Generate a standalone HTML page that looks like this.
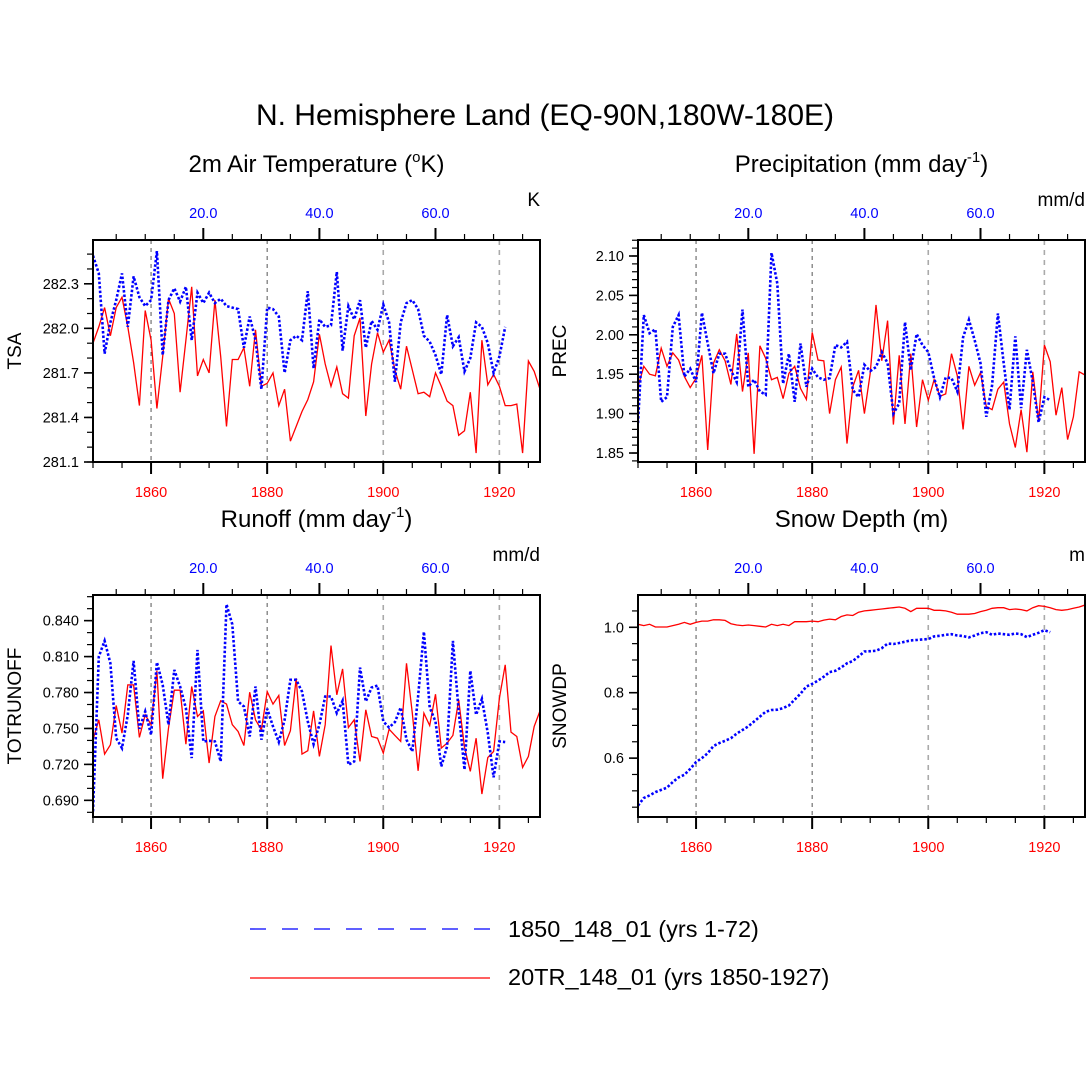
<!DOCTYPE html>
<html><head><meta charset="utf-8"><style>
html,body{margin:0;padding:0;background:#fff;}
svg{display:block;font-family:"Liberation Sans",Arial,sans-serif;}
</style></head><body>
<svg id="chart" width="1090" height="1090" viewBox="0 0 1090 1090">
<text x="545" y="125" font-size="30" text-anchor="middle">N. Hemisphere Land (EQ-90N,180W-180E)</text>
<g>
<line x1="250" y1="929" x2="490" y2="929" stroke="#00f" stroke-width="1.3" stroke-dasharray="16 16"/>
<text x="508" y="937" font-size="23.5">1850_148_01 (yrs 1-72)</text>
<line x1="250" y1="978" x2="490" y2="978" stroke="#f00" stroke-width="1.3"/>
<text x="508" y="985" font-size="23.5">20TR_148_01 (yrs 1850-1927)</text>
</g>
</svg>
<script>
// ---- data ----
const redYears = [1850, 1927];
const blueYears = [1, 72];
const tsaRed = [281.90,282.01,282.14,281.95,282.14,282.21,282.01,281.77,281.48,282.12,281.92,281.46,281.81,282.20,282.10,281.57,281.92,282.28,281.68,281.79,281.70,282.19,281.81,281.34,281.79,281.79,281.87,281.61,281.99,281.61,281.63,281.70,281.48,281.59,281.24,281.34,281.44,281.52,281.64,281.96,281.76,281.61,281.74,281.56,281.53,281.95,282.07,281.41,281.76,281.97,281.84,281.92,281.72,281.59,281.88,281.72,281.56,281.57,281.54,281.70,281.61,281.51,281.48,281.28,281.31,281.57,281.16,281.92,281.62,281.69,281.61,281.48,281.48,281.49,281.16,281.78,281.71,281.59];
const tsaBlue = [282.49,282.37,281.83,282.04,282.19,282.37,282.01,282.35,282.21,282.15,282.19,282.52,281.82,282.19,282.27,282.18,282.28,281.92,282.24,282.17,282.24,282.17,282.20,282.15,282.14,282.13,281.87,282.08,281.92,281.59,282.14,282.13,282.08,281.70,281.92,281.95,281.92,282.25,281.73,282.06,282.01,282.02,282.38,281.85,282.15,282.06,282.19,281.87,282.05,281.99,282.16,282.04,281.64,282.04,282.17,282.19,282.13,281.95,281.91,281.82,281.69,282.09,281.88,281.94,281.71,281.80,282.04,282.01,281.90,281.70,281.81,282.01];
const precRed = [1.934,1.960,1.950,1.948,1.983,1.960,1.977,1.968,1.947,1.933,1.945,1.974,1.854,1.964,1.981,1.967,1.937,2.001,1.928,1.977,1.849,1.986,1.970,1.943,1.946,1.919,1.951,1.960,1.932,1.918,2.003,1.968,1.967,1.900,1.943,1.959,1.862,1.934,1.955,1.900,1.951,2.038,1.967,2.018,1.886,1.974,1.887,1.976,1.883,1.943,1.917,1.943,1.922,1.925,1.976,1.948,1.880,1.960,1.936,1.952,1.909,1.905,1.931,1.940,1.887,1.857,1.905,1.851,1.953,1.890,1.987,1.966,1.898,1.933,1.867,1.896,1.953,1.949];
const precBlue = [1.888,2.025,2.002,2.007,1.915,1.921,2.010,2.025,1.947,1.957,1.940,2.028,1.989,1.951,1.976,1.976,1.955,1.940,2.032,1.934,1.943,1.928,1.924,2.104,2.065,1.938,1.976,1.915,1.989,1.934,1.957,1.946,1.943,1.945,1.987,1.984,1.991,1.930,1.921,1.962,1.954,1.959,1.978,1.964,1.900,1.913,2.016,1.955,2.001,1.987,1.978,1.945,1.921,1.946,1.945,1.928,1.997,2.019,1.993,1.964,1.896,1.936,2.027,1.964,1.905,1.998,1.907,1.981,1.940,1.889,1.921,1.917];
const runRed = [0.7406,0.7572,0.7286,0.7364,0.7692,0.7461,0.7864,0.7864,0.7425,0.7614,0.7531,0.7981,0.7081,0.7503,0.7819,0.7819,0.7369,0.785,0.76,0.7647,0.7211,0.76,0.7731,0.7703,0.7531,0.7475,0.7358,0.7803,0.7572,0.7489,0.7808,0.7703,0.7775,0.7358,0.7481,0.7919,0.7286,0.7314,0.7647,0.7267,0.7531,0.8192,0.7781,0.7997,0.7508,0.7572,0.7225,0.7656,0.7433,0.7419,0.7294,0.7494,0.7442,0.7392,0.8044,0.7628,0.7147,0.7628,0.7525,0.7786,0.7336,0.7378,0.7442,0.7739,0.7342,0.7142,0.7419,0.6953,0.7258,0.7308,0.7753,0.8031,0.7469,0.7433,0.7175,0.7267,0.7517,0.7647];
const runBlue = [0.6808,0.81,0.8231,0.8044,0.7419,0.7336,0.7614,0.8064,0.7497,0.7642,0.7447,0.8053,0.7864,0.7531,0.7989,0.785,0.7669,0.7253,0.8156,0.7392,0.7397,0.7392,0.7225,0.8536,0.8369,0.7725,0.7683,0.7433,0.785,0.7406,0.7664,0.7517,0.7386,0.7572,0.7906,0.7906,0.7808,0.7558,0.7369,0.7531,0.7767,0.7767,0.7628,0.7731,0.7197,0.7225,0.8008,0.7725,0.7842,0.7858,0.7558,0.7508,0.7553,0.7675,0.7406,0.7308,0.7767,0.8308,0.7675,0.7558,0.7183,0.735,0.8231,0.7642,0.7156,0.7981,0.7614,0.7747,0.7461,0.7092,0.7392,0.7386];
const snowRed = [1.009,1.005,1.009,1.001,1.001,1.001,1.005,1.009,1.015,1.009,1.015,1.019,1.019,1.023,1.023,1.021,1.011,1.007,1.005,1.007,1.005,1.003,1.001,1.009,1.005,1.009,1.005,1.017,1.017,1.017,1.019,1.017,1.022,1.025,1.023,1.033,1.038,1.036,1.046,1.050,1.052,1.054,1.056,1.058,1.060,1.062,1.058,1.048,1.058,1.058,1.058,1.052,1.052,1.050,1.046,1.040,1.040,1.040,1.042,1.048,1.052,1.058,1.060,1.060,1.054,1.056,1.054,1.050,1.060,1.066,1.064,1.060,1.054,1.052,1.054,1.058,1.062,1.068];
const snowBlue = [0.455,0.478,0.486,0.496,0.503,0.510,0.527,0.541,0.549,0.567,0.588,0.600,0.615,0.637,0.646,0.653,0.661,0.675,0.686,0.697,0.712,0.727,0.742,0.747,0.748,0.753,0.761,0.779,0.797,0.819,0.827,0.837,0.849,0.863,0.867,0.877,0.890,0.897,0.911,0.926,0.927,0.928,0.936,0.950,0.949,0.952,0.956,0.960,0.961,0.963,0.964,0.972,0.974,0.977,0.979,0.975,0.973,0.969,0.975,0.982,0.985,0.977,0.981,0.979,0.977,0.981,0.979,0.970,0.977,0.983,0.991,0.985];
const bottomTicks = [1860, 1880, 1900, 1920];
const topTicks = [20, 40, 60];
const tsaTicks = ["282.3","282.0","281.7","281.4","281.1"];
const precTicks = ["2.10","2.05","2.00","1.95","1.90","1.85"];
const runTicks = ["0.840","0.810","0.780","0.750","0.720","0.690"];
const snowTicks = ["1.0","0.8","0.6"];

const NS = "http://www.w3.org/2000/svg";
const svg = document.getElementById("chart");
function mk(tag, attrs, parent) {
  const e = document.createElementNS(NS, tag);
  for (const k in attrs) e.setAttribute(k, attrs[k]);
  (parent || svg).appendChild(e);
  return e;
}

function panel(cfg) {
  const L = cfg.x, T = cfg.y, W = 447, H = 222, R = L + W, B = T + H;
  const g = mk("g", {});
  
  
  const xYear = y => L + (y - 1850) * (W / 77);
  const xIdx = i => xYear(1849 + i);
  const yv = v => B - (v - cfg.ymin) / (cfg.ymax - cfg.ymin) * H;

  const st = mk("text", {x: L + W / 2, y: T - 68, "font-size": 24, "text-anchor": "middle"}, g);
  
  
  st.textContent = cfg.title;
  if (cfg.sup) {
    const s = mk("tspan", {"font-size": 15, dy: -10}, st); s.textContent = cfg.sup;
    const s2 = mk("tspan", {dy: 10}, st); s2.textContent = cfg.after;
  }
  const u = mk("text", {x: R, y: T - 34, "font-size": 19, "text-anchor": "end"}, g);
  
  
  u.textContent = cfg.units;
  const yt = mk("text", {x: 0, y: 0, "font-size": 19, "text-anchor": "middle",
    transform: `translate(${L - 72},${T + H / 2}) rotate(-90)`}, g);
  
  
  yt.textContent = cfg.ytitle;

  bottomTicks.forEach((yr, k) => {
    const x = xYear(yr);
    const gl = mk("line", {x1: x, x2: x, y1: T, y2: B, stroke: k < 2 ? "#555" : "#aaa",
      "stroke-width": k < 2 ? 1 : 1.6, "stroke-dasharray": k < 2 ? "4 4" : "5 5"}, g);
    
    
  });

  for (let yr = 1850; yr <= 1927; yr += 5) {
    const major = yr % 20 === 0;
    mk("line", {x1: xYear(yr), x2: xYear(yr), y1: B, y2: B + (major ? 12 : 6), stroke: "#000", "stroke-width": major ? 2 : 1.2}, g);
  }
  bottomTicks.forEach(yr => {
    const t = mk("text", {x: xYear(yr), y: B + 35, "font-size": 14.5, fill: "#f00", "text-anchor": "middle"}, g);
    
    
    t.textContent = yr;
  });
  for (let i = 5; i <= 75; i += 5) {
    const major = i % 20 === 0;
    const x = L + (i - 1) * (W / 77);
    if (x > R) break;
    mk("line", {x1: x, x2: x, y1: T, y2: T - (major ? 12 : 6), stroke: "#000", "stroke-width": major ? 2 : 1.2}, g);
  }
  topTicks.forEach(i => {
    const t = mk("text", {x: L + (i - 1) * (W / 77), y: T - 22, "font-size": 14.5, fill: "#00f", "text-anchor": "middle"}, g);
    
    
    t.textContent = i.toFixed(1);
  });
  const start = Math.ceil(cfg.ymin / cfg.minor - 1e-6);
  for (let k = start; k * cfg.minor <= cfg.ymax + 1e-9; k++) {
    const v = k * cfg.minor, y = yv(v);
    mk("line", {x1: L, x2: L - 6, y1: y, y2: y, stroke: "#000", "stroke-width": 1.2}, g);
  }
  cfg.ticks.forEach(lbl => {
    const y = yv(parseFloat(lbl));
    mk("line", {x1: L, x2: L - 9, y1: y, y2: y, stroke: "#000", "stroke-width": 1.6}, g);
    const t = mk("text", {x: L - 14, y: y + 5, "font-size": 14.5, "text-anchor": "end"}, g);
    
    
    t.textContent = lbl;
  });

  const clipId = "clip-" + cfg.name;
  const cp = mk("clipPath", {id: clipId}, g);
  mk("rect", {x: L, y: T, width: W, height: H}, cp);
  const red = mk("polyline", {points: cfg.red.map((v, i) => xYear(redYears[0] + i).toFixed(1) + "," + yv(v).toFixed(1)).join(" "),
    fill: "none", stroke: "#f00", "stroke-width": 1.3, "clip-path": `url(#${clipId})`}, g);
  
  
  const blue = mk("polyline", {points: cfg.blue.map((v, i) => xIdx(blueYears[0] + i).toFixed(1) + "," + yv(v).toFixed(1)).join(" "),
    fill: "none", stroke: "#00f", "stroke-width": 2.6, "stroke-dasharray": "2.5 2", "clip-path": `url(#${clipId})`}, g);
  
  

  const frame = mk("rect", {x: L, y: T, width: W, height: H, fill: "none", stroke: "#000", "stroke-width": 2}, g);
  
  
}

panel({name: "tsa", x: 93, y: 240, ymin: 281.1, ymax: 282.595, minor: 0.1, ticks: tsaTicks,
  red: tsaRed, blue: tsaBlue, title: "2m Air Temperature (", sup: "o", after: "K)", units: "K", ytitle: "TSA"});
panel({name: "prec", x: 638, y: 240, ymin: 1.8386, ymax: 2.1203, minor: 0.01, ticks: precTicks,
  red: precRed, blue: precBlue, title: "Precipitation (mm day", sup: "-1", after: ")", units: "mm/d", ytitle: "PREC"});
panel({name: "runoff", x: 93, y: 595, ymin: 0.6761, ymax: 0.8614, minor: 0.01, ticks: runTicks,
  red: runRed, blue: runBlue, title: "Runoff (mm day", sup: "-1", after: ")", units: "mm/d", ytitle: "TOTRUNOFF"});
panel({name: "snow", x: 638, y: 595, ymin: 0.42, ymax: 1.0987, minor: 0.05, ticks: snowTicks,
  red: snowRed, blue: snowBlue, title: "Snow Depth (m)", units: "m", ytitle: "SNOWDP"});
</script>
</body></html>
